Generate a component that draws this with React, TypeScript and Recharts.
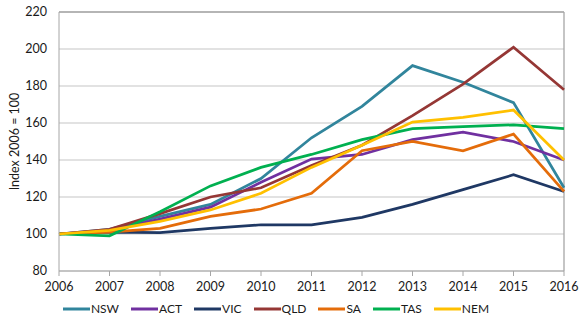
import { LineChart, Line, XAxis, YAxis, CartesianGrid, Legend, ReferenceLine } from 'recharts';

const years = ['2006', '2007', '2008', '2009', '2010', '2011', '2012', '2013', '2014', '2015', '2016'];

const nsw = [100, 102.5, 109.5, 116, 130, 152, 169, 191, 182, 171, 125];
const act = [100, 102, 108, 114.5, 128, 140.5, 143, 151, 155, 150, 140];
const vic = [100, 101, 100.8, 103, 105, 105, 109, 116, 124, 132, 123];
const qld = [100, 102.5, 111, 120, 125, 137, 148, 164, 181, 201, 178];
const sa = [100, 101, 103, 109.5, 113.5, 122, 145, 150, 145, 154, 123];
const tas = [100, 99, 112, 126, 136, 143, 151, 157, 158, 159, 157];
const nem = [100, 102, 106.8, 113, 122, 136, 148, 160.5, 163, 167, 140];

const yTicks = [80, 100, 120, 140, 160, 180, 200, 220];

const series = [
  { key: 'NSW', values: nsw, color: '#31859C' },
  { key: 'ACT', values: act, color: '#7030A0' },
  { key: 'VIC', values: vic, color: '#1F3864' },
  { key: 'QLD', values: qld, color: '#953735' },
  { key: 'SA', values: sa, color: '#E46C0A' },
  { key: 'TAS', values: tas, color: '#00B050' },
  { key: 'NEM', values: nem, color: '#FFC000' },
];

const data = years.map((year, i) => {
  const row: Record<string, string | number> = { year };
  series.forEach((s) => {
    row[s.key] = s.values[i];
  });
  return row;
});

const FONT = 'Lato, "Liberation Sans", sans-serif';

function renderLegend() {
  return (
    <div style={{ display: 'flex', justifyContent: 'center', alignItems: 'center', fontFamily: FONT, fontSize: 12, color: '#1a1a1a' }}>
      {series.map((s) => (
        <div key={s.key} style={{ display: 'flex', alignItems: 'center', marginRight: 12 }}>
          <svg width={27} height={6} style={{ marginRight: 1 }}>
            <line x1={0} y1={3} x2={27} y2={3} stroke={s.color} strokeWidth={3} />
          </svg>
          <span>{s.key}</span>
        </div>
      ))}
    </div>
  );
}

export default function App() {
  return (
    <div style={{ position: 'absolute', left: 0, top: 0, width: 580, height: 328, background: '#fff' }}>
      <LineChart width={580} height={328} data={data} margin={{ top: 12, right: 16, bottom: 0, left: 0 }}>
        <CartesianGrid vertical={false} stroke="#d9d9d9" strokeWidth={1.3} />
        <XAxis
          dataKey="year"
          stroke="#a6a6a6"
          tickSize={5}
          tickMargin={6}
          height={30}
          interval={0}
          tick={{ fill: '#1a1a1a', fontSize: 12.5, fontFamily: FONT }}
        />
        <YAxis
          domain={[80, 220]}
          ticks={yTicks}
          width={59}
          stroke="#a6a6a6"
          tickLine={false}
          tickSize={6}
          tickMargin={6}
          tick={{ fill: '#1a1a1a', fontSize: 12.5, fontFamily: FONT }}
          label={{ value: 'Index 2006 = 100', angle: -90, position: 'center', dx: -15, style: { fill: '#1a1a1a', fontSize: 12.5, fontFamily: FONT } }}
        />
        <ReferenceLine y={220} stroke="#a6a6a6" strokeWidth={1.3} />
        <ReferenceLine x="2016" stroke="#a6a6a6" strokeWidth={1.3} />
        <Legend verticalAlign="bottom" height={27} content={renderLegend} />
        {series.map((s) => (
          <Line
            key={s.key}
            type="linear"
            dataKey={s.key}
            stroke={s.color}
            strokeWidth={2.75}
            dot={false}
            isAnimationActive={false}
          />
        ))}
      </LineChart>
    </div>
  );
}
